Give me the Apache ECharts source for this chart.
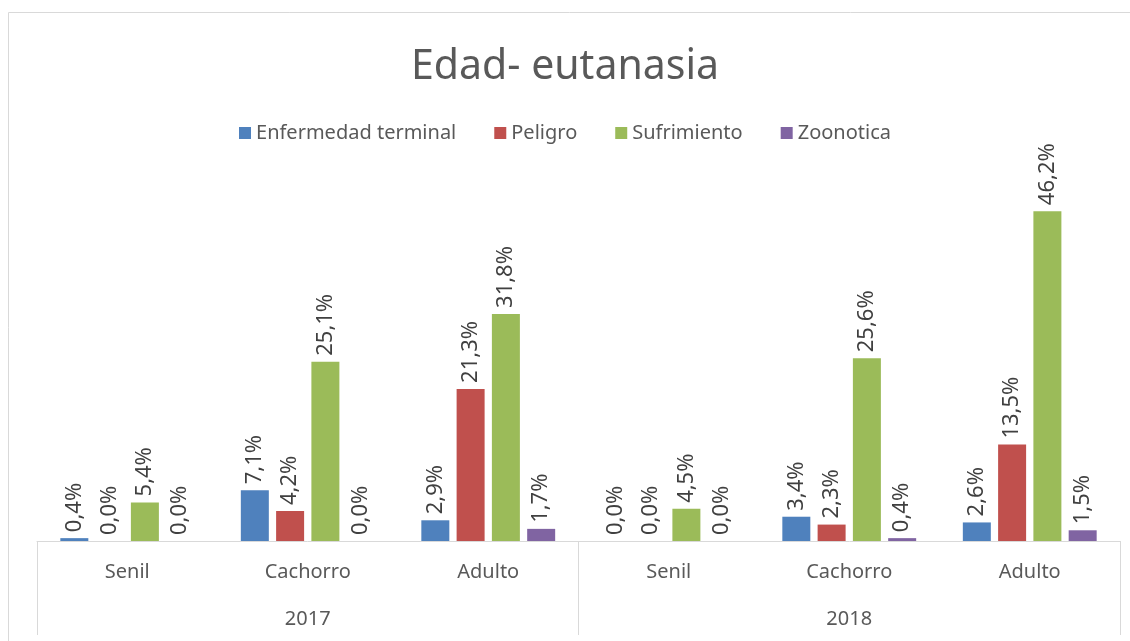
<!DOCTYPE html>
<html>
<head>
<meta charset="utf-8">
<script src="https://cdn.jsdelivr.net/npm/echarts@6/dist/echarts.min.js"></script>
<style>
  html, body { margin: 0; padding: 0; background: #fff; }
  #chart { width: 1130px; height: 641px; }
</style>
</head>
<body>
<div id="chart"></div>
<script>
const categories = ['Senil', 'Cachorro', 'Adulto', 'Senil', 'Cachorro', 'Adulto']
const years = ['2017', '2018']
const seriesNames = ['Enfermedad terminal', 'Peligro', 'Sufrimiento', 'Zoonotica']
const enfermedad = [0.4, 7.1, 2.9, 0.0, 3.4, 2.6]
const peligro = [0.0, 4.2, 21.3, 0.0, 2.3, 13.5]
const sufrimiento = [5.4, 25.1, 31.8, 4.5, 25.6, 46.2]
const zoonotica = [0.0, 0.0, 1.7, 0.0, 0.4, 1.5]
const colors = ['#4F81BD', '#C0504D', '#9BBB59', '#8064A2']

const font = 'Noto Sans'
const values = [enfermedad, peligro, sufrimiento, zoonotica]

let myChart = echarts.init(document.getElementById('chart'))

const series = seriesNames.map((name, i) => ({
    name,
    type: 'bar',
    data: values[i],
    barWidth: 28,
    barGap: '26%',
    itemStyle: { color: colors[i] },
    label: {
        show: true,
        position: 'top',
        rotate: 90,
        align: 'left',
        verticalAlign: 'middle',
        distance: 6,
        fontFamily: font,
        fontSize: 22,
        color: '#404040',
        formatter: p => p.value.toFixed(1).replace('.', ',') + '%'
    }
}))

myChart.setOption({
    animation: false,
    color: colors,
    title: {
        text: 'Edad- eutanasia',
        left: 'center',
        top: 42,
        textStyle: { fontFamily: font, fontSize: 41, fontWeight: 'normal', color: '#595959' }
    },
    legend: {
        top: 118,
        left: 'center',
        itemWidth: 12,
        itemHeight: 12,
        itemGap: 38,
        icon: 'rect',
        textStyle: { fontFamily: font, fontSize: 20, color: '#595959' },
        data: seriesNames
    },
    graphic: [{
        type: 'rect',
        shape: { x: 8.5, y: 12.5, width: 1140, height: 650 },
        style: { fill: 'none', stroke: '#d9d9d9', lineWidth: 1 },
        silent: true
    }],
    grid: { left: 37, right: 10, top: 184, bottom: 100 },
    xAxis: [{
        type: 'category',
        data: categories,
        axisLine: { lineStyle: { color: '#d9d9d9' } },
        axisTick: { show: false },
        axisLabel: { margin: 21, fontFamily: font, fontSize: 20, color: '#595959' }
    }, {
        type: 'category',
        data: years,
        position: 'bottom',
        axisLine: { show: false },
        axisTick: { show: true, length: 94, lineStyle: { color: '#d9d9d9' } },
        axisLabel: { margin: 68, fontFamily: font, fontSize: 20, color: '#595959' }
    }],
    yAxis: {
        type: 'value',
        min: 0,
        max: 50,
        show: false
    },
    series
})
</script>
</body>
</html>
